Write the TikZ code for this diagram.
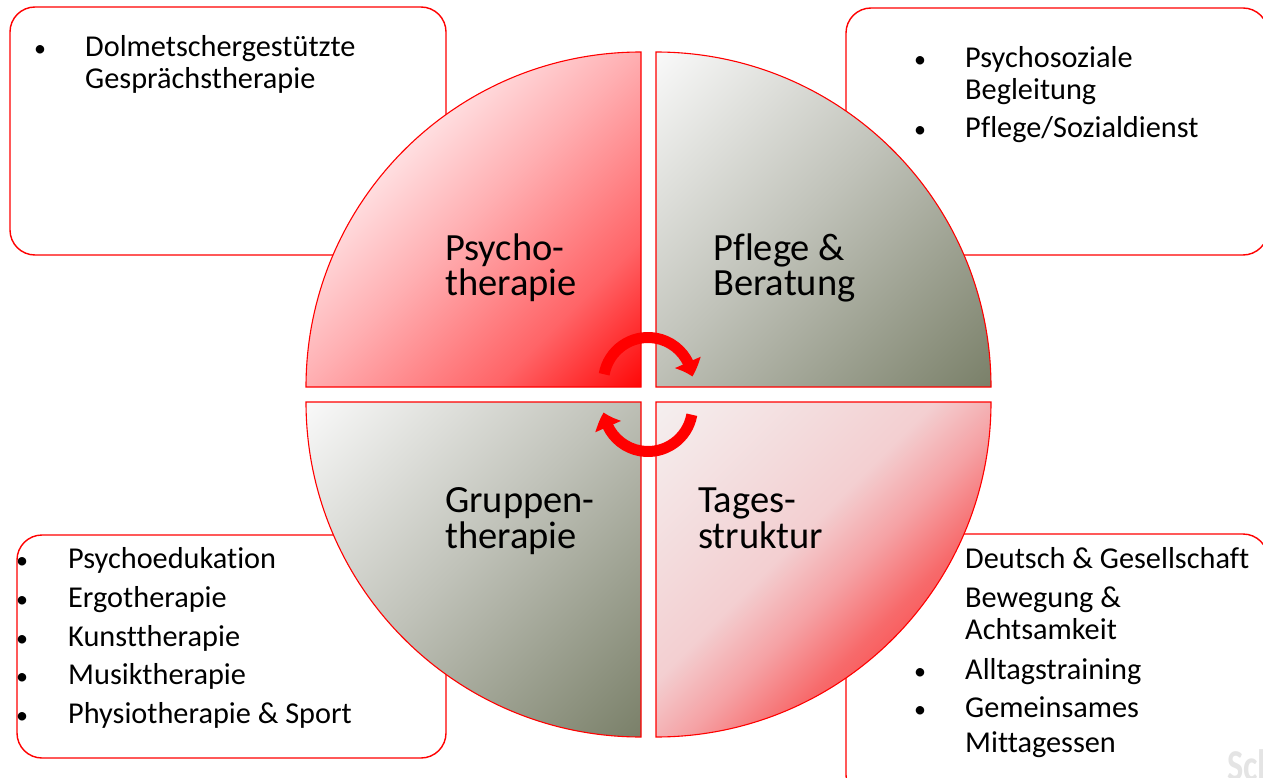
\documentclass[tikz,border=0pt]{standalone}
\usepackage{fontspec}
\setmainfont{Carlito}[Ligatures=NoCommon]
\newfontfamily\wmfont{Carlito}[FakeStretch=0.78]
\usetikzlibrary{arrows.meta,bending}
\definecolor{olive}{HTML}{7A8069}
\definecolor{graymid}{HTML}{C0C2B9}
\definecolor{grayhi}{HTML}{F9F9F9}
\definecolor{tlred}{HTML}{FF0808}
\definecolor{tlr2}{HTML}{FF6467}
\definecolor{tlmid}{HTML}{FFAEB1}
\definecolor{tlhi}{HTML}{FFE3E5}
\definecolor{brred}{HTML}{FF3838}
\definecolor{brr2}{HTML}{F76A6B}
\definecolor{brr3}{HTML}{F5A2A5}
\definecolor{brmid}{HTML}{F3CFD1}
\definecolor{brhi}{HTML}{F4EFEF}
\definecolor{wm}{HTML}{E4E4E4}
\pgfdeclareverticalshading{tlshade}{100bp}{color(0bp)=(tlred); color(14.6bp)=(tlred); color(30bp)=(tlr2); color(50bp)=(tlmid); color(66bp)=(tlhi); color(100bp)=(tlhi)}
\pgfdeclareverticalshading{grayshade}{100bp}{color(0bp)=(olive); color(14.6bp)=(olive); color(52bp)=(graymid); color(85.4bp)=(grayhi); color(100bp)=(grayhi)}
\pgfdeclareverticalshading{brshade}{100bp}{color(0bp)=(brred); color(25bp)=(brred); color(38bp)=(brr2); color(47bp)=(brr3); color(56bp)=(brmid); color(85.4bp)=(brhi); color(100bp)=(brhi)}
\tikzset{
  infobox/.style={draw=red, line width=1.4pt, fill=white, rounded corners=25pt},
  quad/.style={draw=red, line width=1.1pt, shading angle=45},
  redquad/.style={shading=tlshade, quad},
  grayquad/.style={shading=grayshade, quad},
  tagquad/.style={shading=brshade, quad},
  item/.style={anchor=base west, inner sep=0pt, font=\fontsize{30.3}{33}\selectfont},
  bul/.style={anchor=base, inner sep=0pt, font=\fontsize{24}{33}\selectfont},
  qlabel/.style={anchor=base west, inner sep=0pt, font=\fontsize{38.5}{38}\selectfont},
  cyc/.style={draw=red, line width=11pt, -{Triangle[width=27pt,length=15pt,bend]}}
}
\begin{document}
\begin{tikzpicture}[x=1pt,y=-1pt]
\useasboundingbox (0,0) rectangle (1263,778);
\clip (0,0) rectangle (1263,778);

% info boxes (behind the circle)
\draw[infobox] (10,7) rectangle (446,255);
\draw[infobox] (846,8) rectangle (1268,255);
\draw[infobox] (17,535) rectangle (446,758);
\draw[infobox] (846,534) rectangle (1268,800);

% quadrants
\shade[redquad] (641,387) -- (306,387) arc[start angle=180, end angle=270, radius=335] -- cycle;
\shade[grayquad] (656,387) -- (656,52) arc[start angle=270, end angle=360, radius=335] -- cycle;
\shade[grayquad] (641,402) -- (641,737) arc[start angle=90, end angle=180, radius=335] -- cycle;
\shade[tagquad] (656,402) -- (991,402) arc[start angle=0, end angle=90, radius=335] -- cycle;

% quadrant labels
\node[qlabel] (psy1) at (445,260) {Psycho-};
\node[qlabel] (psy2) at (445,295) {therapie};
\node[qlabel] (pfl1) at (713,260) {Pflege \&};
\node[qlabel] (pfl2) at (713,295) {Beratung};
\node[qlabel] (gru1) at (445,512) {Gruppen-};
\node[qlabel] (gru2) at (445,548) {therapie};
\node[qlabel] (tag1) at (698,512) {Tages-};
\node[qlabel] (tag2) at (698,548) {struktur};

% cycle arrows
\coordinate (c1) at (648,382);
\coordinate (c2) at (648,407);
\draw[cyc] (c1) ++(190:44.5) arc[start angle=190, end angle=353, radius=44.5];
\draw[cyc] (c2) ++(10:44.5) arc[start angle=10, end angle=173, radius=44.5];

% top-left box text
\node[bul] (b11) at (40,57) {•};
\node[item] (t11) at (85,57) {Dolmetschergestützte};
\node[item] (t12) at (85,89) {Gesprächstherapie};

% top-right box text
\node[bul] (b21) at (920,68) {•};
\node[item] (t21) at (965,68) {Psychosoziale};
\node[item] (t22) at (965,100) {Begleitung};
\node[bul] (b22) at (920,138) {•};
\node[item] (t23) at (965,138) {Pflege/Sozialdienst};

% bottom-left box text
\node[bul] (b31) at (22,568) {•};
\node[item] (t31) at (68,568) {Psychoedukation};
\node[bul] (b32) at (22,607) {•};
\node[item] (t32) at (68,607) {Ergotherapie};
\node[bul] (b33) at (22,646) {•};
\node[item] (t33) at (68,646) {Kunsttherapie};
\node[bul] (b34) at (22,684) {•};
\node[item] (t34) at (68,684) {Musiktherapie};
\node[bul] (b35) at (22,723) {•};
\node[item] (t35) at (68,723) {Physiotherapie \& Sport};

% bottom-right box text
\node[item] (t41) at (965,568) {Deutsch \& Gesellschaft};
\node[item] (t42) at (965,607) {Bewegung \&};
\node[item] (t43) at (965,639) {Achtsamkeit};
\node[bul] (b41) at (920,679) {•};
\node[item] (t44) at (965,679) {Alltagstraining};
\node[bul] (b42) at (920,717) {•};
\node[item] (t45) at (965,717) {Gemeinsames};
\node[item] (t46) at (965,752) {Mittagessen};

% watermark
\node[anchor=base west, inner sep=0pt, text=wm, font=\wmfont\bfseries\fontsize{44}{44}\selectfont] (wmk) at (1227,780) {Sch};
\end{tikzpicture}
\end{document}
